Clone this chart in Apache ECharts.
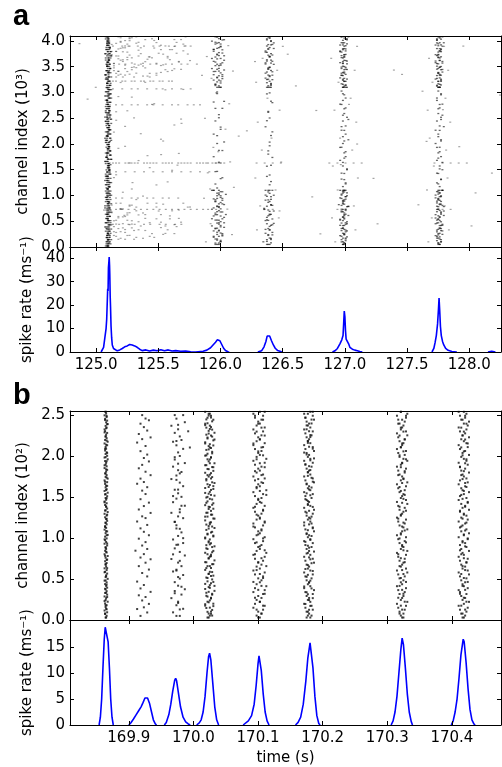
<!DOCTYPE html>
<html><head><meta charset="utf-8">
<script src="https://cdn.jsdelivr.net/npm/echarts@6/dist/echarts.min.js"></script>
<style>html,body{margin:0;padding:0;background:#fff}#c{width:502px;height:767px}</style>
</head><body><div id="c"></div>
<script>
// ---------- tick labels ----------
const xTicksA = [125.0,125.5,126.0,126.5,127.0,127.5,128.0];
const xTicksB = [169.9,170.0,170.1,170.2,170.3,170.4];
const yTicksRasterA = [0,0.5,1.0,1.5,2.0,2.5,3.0,3.5,4.0];
const yTicksRateA = [0,10,20,30,40];
const yTicksRasterB = [0,0.5,1.0,1.5,2.0,2.5];
const yTicksRateB = [0,5,10,15];

// ---------- population spike rate (time s, rate ms^-1); '-' = silent stretch (rate 0, hidden under the axis) ----------
const rateA = [[125.04,0],[125.05,0.5],[125.06,2],[125.07,6],[125.08,10],[125.085,14],[125.09,22],[125.093,27],[125.096,26],[125.099,36],[125.102,38],[125.105,40.5],[125.108,37],[125.11,33],[125.113,24],[125.116,19],[125.12,11],[125.125,6],[125.13,3],[125.14,1.5],[125.15,0.8],[125.17,0.5],[125.19,0.9],[125.21,1.5],[125.23,2.2],[125.25,2.6],[125.26,2.2],[125.27,3.2],[125.28,3.6],[125.29,3.0],[125.30,3.4],[125.31,2.6],[125.32,2.9],[125.33,2.0],[125.35,1.2],[125.37,0.6],[125.40,0.9],[125.43,0.4],[125.46,0.8],[125.49,0.5],[125.52,1.0],[125.55,0.5],[125.58,0.9],[125.61,0.4],[125.64,0.6],[125.68,0.3],[125.72,0.4],[125.76,0.1],[125.80,0],[125.86,0.3],[125.89,0.8],[125.92,1.8],[125.94,3.0],[125.96,4.2],[125.975,5.2],[125.985,5.6],[125.995,4.8],[126.01,3.2],[126.025,1.6],[126.04,0.6],[126.06,0.1],[126.07,0],[126.15,'-'],[126.30,0],[126.33,0.5],[126.35,2.2],[126.365,4.5],[126.375,6.8],[126.385,7.6],[126.395,6.8],[126.41,4.8],[126.425,3.0],[126.44,1.6],[126.46,0.6],[126.49,0.1],[126.50,0],[126.7,'-'],[126.90,0],[126.92,0.5],[126.94,1.5],[126.96,3.5],[126.975,5.2],[126.985,7],[126.99,12],[126.995,17.5],[127.0,15],[127.005,9],[127.01,5.5],[127.02,5],[127.03,3.5],[127.04,2.0],[127.06,1.2],[127.08,0.8],[127.10,0.5],[127.12,0.2],[127.14,0],[127.4,'-'],[127.70,0],[127.715,1.5],[127.725,4],[127.735,7],[127.745,12],[127.752,18],[127.757,23],[127.762,18],[127.768,11],[127.775,7],[127.785,4.5],[127.795,3],[127.81,1.5],[127.83,0.7],[127.86,0.2],[127.90,0],[128.0,'-'],[128.15,0],[128.18,0.3],[128.21,0]];

const rateB = [[169.854,0],[169.856,1.5],[169.858,5],[169.860,11],[169.862,16.5],[169.8635,18.8],[169.865,19],[169.8665,18.7],[169.868,16],[169.870,11],[169.872,5],[169.874,1.5],[169.876,0],[169.888,'-'],
[169.900,0],[169.903,0.4],[169.907,1.1],[169.911,1.9],[169.915,2.7],[169.919,3.5],[169.922,4.3],[169.925,5.2],[169.927,5.5],[169.929,5.2],[169.932,4.2],[169.935,2.6],[169.938,1.0],[169.941,0.2],[169.943,0],[169.949,'-'],
[169.955,0],[169.958,0.5],[169.962,2.0],[169.965,4.0],[169.968,6.5],[169.971,8.6],[169.9725,9.0],[169.974,8.5],[169.977,6.0],[169.980,3.5],[169.984,1.5],[169.988,0.6],[169.992,0.2],[169.995,0],[170.0,'-'],
[170.005,0],[170.009,0.4],[170.012,1.0],[170.015,2.5],[170.018,5.5],[170.021,10],[170.0235,13.2],[170.025,13.8],[170.027,12.5],[170.030,8],[170.033,3.5],[170.036,1.0],[170.039,0],[170.06,'-'],
[170.077,0],[170.080,0.3],[170.085,0.8],[170.090,1.8],[170.094,4],[170.097,7.5],[170.100,11.8],[170.1015,13.3],[170.103,13.0],[170.105,10.5],[170.108,6],[170.111,2.5],[170.114,0.8],[170.117,0],[170.14,'-'],
[170.158,0],[170.162,0.5],[170.166,1.5],[170.170,4],[170.174,8.5],[170.177,12.8],[170.1805,15.8],[170.182,15.5],[170.185,11],[170.188,5.5],[170.191,1.8],[170.194,0.3],[170.196,0],[170.25,'-'],
[170.306,0],[170.309,0.8],[170.312,2.5],[170.315,5.5],[170.318,10],[170.321,14.5],[170.323,16.7],[170.325,15.5],[170.328,11],[170.331,6],[170.334,2.5],[170.337,0.7],[170.339,0],[170.37,'-'],
[170.399,0],[170.402,0.8],[170.405,2.5],[170.408,5],[170.411,9],[170.414,13.5],[170.4175,16.5],[170.419,16],[170.422,12],[170.425,7],[170.428,3],[170.431,1.0],[170.434,0.2],[170.436,0]];

// ---------- raster spikes, hand-read per group ----------
// group: [t0 (s), dt (s per code unit), ch0, ch1 (channel, 10^n), strings]
// each character = one spike; its position along the string = channel, its base-36 value = time offset; space = none
const burstA1 = [[125.072,0.0055,0.02,4.08,[
"4536254734615274380546273514627354172645362718453627451836254736125473628154736251437625183746253614",
"5274638192736451827364519283746521837465192837465218374652918374651283746592837461528374659182736455",
"4455334466554433556644335544663344556655443344665533445566443355664433554466334455664433556644553344",
"1829374650918273645091827364519082736451092837465190283746519082736451908273645190827364519082736451",
"36475 2 84 5 3 6 47 2 5 3 6 8 4 5 2 7 3 6 4 5 1 7 3 6 4 8 2 5 3 6 4 7 5 3"]]];
const burstA2 = [
[125.917,0.014,0.05,1.1,["4 6 3 5 7 2 4 6 5 3 8 4 6 1 5 7 3 4 6 5 2","53 64 27 45 36 58 41 63 75 24 56 37 49 62","3564 2746 5381 4657 2934 6548 3726 5471"]],
[125.917,0.014,1.1,3.1,["5  3  7  4   6  2  5   8  4  6   3  5  7  2   4  6"," 4   6  3   5    7  4   2  6   5   3  8   4  "]],
[125.917,0.014,3.1,4.08,["4536 2745 6381 5472 6354 2746 3518 4","5 3 6 4 7 2 5 6 3 4 8 5 2 6 4 7 3","63 45 72 54 36 81 47 25 63 54"]]];
const burstA3 = [
[126.34,0.011,0.05,1.1,["5 3 6 4 7 2 5 8 4 3 6 5 1 7 4 6 3 5 2","46 35 72 54 63 27 45 81 36 54 62 47","3 6 4 5 7 3 5 4 6 2 8 5"]],
[126.34,0.011,1.1,3.1,["4   6  5   3   7  4   5  6   2   5  4   7   3  6","  5  3   6   4  5    7   3  4   6  5  "]],
[126.34,0.011,3.1,4.08,["5463 7254 3645 8273 5462 4537 6354","4 6 3 5 7 4 2 6 5 3 8 4 6 5","36 54 72 45 63 57 24 68 35"]]];
const burstA4 = [
[126.94,0.011,0.05,1.1,["4536 4725 6354 4637 2548 5463 7354 4626 3745","5 4 6 3 5 7 4 5 6 2 4 5 3 6 8 4 5 3 7 4 6","45 36 54 63 27 45 56 34 81 45 63 52"]],
[126.94,0.011,1.1,3.1,["5 4 6 3  5 7 4  2 6 5  3 4 8  6 5 3  4 7 5  6 2 4  5 3 6","4  6 5  3 7  4 5  6 2  5 4  3 6  8 4  5 3  6 4  7"]],
[126.94,0.011,3.1,4.08,["4563 5472 4635 5364 7245 4536 3645 5273 4658","5 4 6 5 3 4 7 5 4 6 3 5 2 4 6 5 7 3","46 54 35 63 47 55 26 44 73"]]];
const burstA5 = [
[127.707,0.011,0.05,1.1,["5463 4527 3645 5736 4258 6354 4763 5426 4537","4 6 5 3 4 7 5 6 4 3 5 2 6 4 8 5 3 4 6 5 7","54 63 45 36 72 54 46 83 35 64 52 47"]],
[127.707,0.011,1.1,3.1,["4 5 3 6  4 7 5  3 6 4  5 2 6  4 5 8  3 6 4  5 7 3  6 4 5","5  4 6  3 5  7 4  5 3  6 4  2 5  6 7  4 5  3 6  4"]],
[127.707,0.011,3.1,4.08,["5364 4625 3547 6453 4275 5634 4563 7245 3654","4 5 6 3 5 4 7 6 3 5 4 2 6 5 4 8 3 5","53 46 64 35 72 44 56 63 37"]]];
const halosA = [
[125.86,0.0075,0.1,4.05,["3 v  8   q  1  x   5  t   b    o  2   s  e   9 w   4  r  "]],
[126.28,0.0065,0.1,4.05,["a  2  t  6   p  0   w  8  k   3  u  f   1  r  9  y  "]],
[126.89,0.0065,0.1,4.05,["5  u  1  s   8  x  2   q  b   v  4  o   9  t  0  w  "]],
[127.66,0.0055,0.1,4.05,["2  w  7  q   0  u  a   s  4   y  1  r   8  v  3  p  "]]];
const scatterA = [
[125.125,0.018,3.3,4.08,["a 3 h 7 o 1 e  k 5 q 9 c  t 2 m 6 x  b 4 s 8 ","5 k 2 p 9 f  c 1 u 7 i 3 n  0 r d 6 w 4 j 8 b"," g 4 m 1 s a 6 e  z 3 h 8 l 2 q 5 o 7 c  v 9 ","2e 8k 3r 6b 1n 9u 4g 7p 0d 5w 3j 8m 2t 6f 4x","h 6 b 3 v 9 m 1 f 5 p 2 y 7 c 4 s 0 k 8 i 3"]],
[125.125,0.018,0.15,0.85,["3 b 7 i 1 p 5 d 9 m 2 u 6 f 0 r 4 k 8 w"," e 2 n 6 a 3 t 8 h 1 q 5 c 7 l 4 y 9 g","6 j 1 s 4 c 9 o 2 v 7 f 3 m 8 b 5 z 0 k","a4 h8 o2 f6 m1 s5 c9 k3 q7 e0 u4 b8 n2"]],
[125.125,0.018,0.85,3.3,["4   e   9   p   2   h   c   u   6   m   1   s   a   7   j   3   w   f   ","  b   5   k   1   r   8   g   3   n   d   6   v   2   i   9   o   4   "]]];
const rowsA = [
[125.11,0.025,1.63,1.63,["0123 56789 bcdef hijk mnopq stuv xyz"]],
[125.11,0.025,3.07,3.07,["1  4  7 9  c  f h  k  n  q"]],
[125.11,0.025,2.76,2.76,["0 2 4  7 9  c e  h  k m  p r t"]],
[125.11,0.025,3.22,3.22,["1 2 4 5 7 8 a b d e g h j k"]],
[125.11,0.025,1.46,1.46,["2 5 8 b e h k n q t w"]],
[125.11,0.025,0.73,0.73,["0 2 4 6 8 a c e g i k m o q s u"]],
[125.11,0.025,0.44,0.44,["1 3 6 8 b d g i l n"]],
[125.11,0.025,3.55,3.55,["0 3 5 8 a d f i k n p s"]],
[125.11,0.025,3.90,3.90,["1 4 6 9 b e g j l o q"]],
[125.11,0.025,0.95,0.95,["2 4 7 9 c e h j m"]],
[125.90,0.065,1.63,1.63,["012 6789 fghij stuvw"]],
[125.90,0.065,0.73,0.73,["01  78  gh  tu"]]];
const backgroundA = [
[124.80,0.0985,0.05,4.05,["  3     p    h      x   5      m    c   t      9    k     z  2    r    f     w   "]],
[124.833,0.0985,0.05,4.05,["    k      4   s     b     y      7   n    e       u   1    i     q    6       "]],
[124.866,0.0985,0.05,4.05,[" f     w     2    j      o    8      v   d     3     m    s     a       h   0  "]]];

const burstB1 = [[169.8609,0.0008,0.03,2.54,[
"4637254638452736475362845736254637482635472536384725364753628475362547382645372846357264538274635472836457326485736254",
"5 3 6 4 2 7 5 3 6 4 5 2 7 4 6 3 5 4 7 2 6 5 3 4 6 7 3 5 2 6 4 5 7 3 6 4 5 2 6 4 7 3 5 6 4 2 5 7 3 6 4"]]];
const burstB2 = [[169.9103,0.0026,0.05,2.5,[
"3 7 15 8 4 62 9 3 5 1  7 4 8 2 6 93 5 07 4 6 2 8 5 3 7 1 64 9 2 5 8 3  6 4 7 15 3 9 6 2 4 8 5 7 3  6 1 49 2 7 5 3 86 4"]]];
const burstB3 = [[169.9633,0.0026,0.05,2.5,[
"6 2 8 4 5 1 7 39 5 3 6 8 24 7 5 1 9 6 3 48 2 5 7 6 4 3 85 1 6 9 2 47 5 3 8 6 1 4 75 2 9 3 6 5 8 4 27 6 3 5 1 9 4 8",
"4 6 5  3 7  5 4  6 2  5 8  4 3  6 7  2 5  4 6  5 3  c 4  b 5  3"]]];
const burstB4 = [[170.0164,0.0018,0.03,2.54,[
"4563728145637291456372845163729456183726451837294561837264518372945618372645183729456137264518372945613726451",
"3746 5183 6274 5918 3647 2581 4637 2954 1836 4725 9163 8472 5361 8459 2736 4815 3627 4581 9364 7251 8364 "]]];
const burstB5 = [[170.0903,0.0025,0.03,2.54,[
"5364718253647182935647281536472819354627183546271835462718354627193546281735462819354627183546271835462718",
"4 6 3 7 5 2 8 4 6 1 7 5 3 9 4 6 2 8 5 3 7 4 6 1 8 5 3 7 2 6 4 9 5 3 7 4 6 2 8 5 3 7 4 6 1 5 8 3 6 4 7 2 5"]]];
const burstB6 = [[170.1695,0.0019,0.03,2.54,[
"6453827164538291645372816453928164537281645392817645382916453728164539281645372816453928164537281645392816",
"37 45 62 58 43 71 56 34 82 47 65 39 54 26 73 48 51 67 35 84 42 63 57 38 74 46 52 69 31 85 44 66 53 37 72 48"]]];
const burstB7 = [[170.313,0.002,0.03,2.54,[
"5463728194563728154637291845637281946537281459637281456372918456372819465372814596372814563729184563728194",
"6 3 5 4 7 2 6 5 3 8 4 6 5 3 7 4 2 6 5 8 3 4 7 5 6 2 4 8 3 5 6 7 4 3 5 6 2 7 4 5 8 3 6 4 5 7 3 6 4 2 5 8 4"]]];
const burstB8 = [[170.4085,0.002,0.03,2.54,[
"4637281594637218546372918463728154937264815937246183752946381725943618275493628175394628175394627185936271",
"5 4 6 3 7 5 2 6 4 8 5 3 6 4 7 5 3 2 6 4 8 5 6 3 7 4 5 2 6 8 4 3 5 7 6 4 3 5 2 6 7 4 5 3 8 6 4 5 3 7 4 6 5"]]];

function decode(groups){
  const out=[];
  groups.forEach(function(g){
    const t0=g[0],dt=g[1],c0=g[2],c1=g[3];
    g[4].forEach(function(s){
      const n=s.length;
      for(let i=0;i<n;i++){
        const c=s[i]; if(c===' ') continue;
        const v=parseInt(c,36); if(isNaN(v)) continue;
        out.push([t0+v*dt, n>1 ? c0+(c1-c0)*i/(n-1) : c0]);
      }
    });
  });
  return out;
}
const spikesABursts = [].concat(decode(burstA1),decode(burstA2),decode(burstA3),decode(burstA4),decode(burstA5));
const spikesAScatter = [].concat(decode(halosA),decode(scatterA),decode(rowsA),decode(backgroundA));
const spikesB = [].concat(decode(burstB1),decode(burstB2),decode(burstB3),decode(burstB4),decode(burstB5),decode(burstB6),decode(burstB7),decode(burstB8));

// ---------- chart ----------
const FONT='DejaVu Sans';
const grids=[
 {left:70,top:36,width:431,height:211},
 {left:70,top:247,width:431,height:105},
 {left:70,top:411,width:431,height:209},
 {left:70,top:620,width:431,height:105}];
const xr=[[124.79,128.255,xTicksA],[124.79,128.255,xTicksA],[169.809,170.476,xTicksB],[169.809,170.476,xTicksB]];
const yr=[[0,4.096,yTicksRasterA,1],[0,44.8,yTicksRateA,0],[0,2.55,yTicksRasterB,1],[0,20.2,yTicksRateB,0]];
const yNames=['channel index (10³)','spike rate (ms⁻¹)','channel index (10²)','spike rate (ms⁻¹)'];
const yGaps=[37,32,37,32];
const xAxis=[],yAxis=[];
const line={show:true,onZero:false,lineStyle:{color:'#000',width:1}};
for(let i=0;i<4;i++){
  const showX = (i===1||i===3);
  xAxis.push({type:'value',gridIndex:i,position:'bottom',min:xr[i][0],max:xr[i][1],axisLine:line,splitLine:{show:false},z:5,
    axisTick:{show:true,inside:true,length:4,customValues:xr[i][2],lineStyle:{color:'#000'}},
    axisLabel:{show:showX,customValues:xr[i][2],margin:6,fontFamily:FONT,fontSize:15,color:'#000',formatter:function(v){return v.toFixed(1);}},
    name: i===3?'time (s)':'',nameLocation:'middle',nameGap:26,nameTextStyle:{fontFamily:FONT,fontSize:15,color:'#000'}});
  xAxis.push({type:'value',gridIndex:i,position:'top',min:xr[i][0],max:xr[i][1],axisLine:line,splitLine:{show:false},z:5,
    axisTick:{show:true,inside:true,length:4,customValues:xr[i][2],lineStyle:{color:'#000'}},axisLabel:{show:false}});
  const dec=yr[i][3];
  yAxis.push({type:'value',gridIndex:i,position:'left',min:yr[i][0],max:yr[i][1],axisLine:line,splitLine:{show:false},z:5,
    axisTick:{show:true,inside:true,length:4,customValues:yr[i][2],lineStyle:{color:'#000'}},
    axisLabel:{show:true,customValues:yr[i][2],margin:5,fontFamily:FONT,fontSize:15,color:'#000',formatter:function(v){return v.toFixed(dec);}},
    name:yNames[i],nameLocation:'middle',nameRotate:90,nameGap:yGaps[i],nameTextStyle:{fontFamily:FONT,fontSize:15,color:'#000'}});
  yAxis.push({type:'value',gridIndex:i,position:'right',min:yr[i][0],max:yr[i][1],axisLine:line,splitLine:{show:false},z:5,
    axisTick:{show:true,inside:true,length:4,customValues:yr[i][2],lineStyle:{color:'#000'}},axisLabel:{show:false}});
}
const chart=echarts.init(document.getElementById('c'),null,{renderer:'canvas'});
chart.setOption({
  animation:false,
  backgroundColor:'#fff',
  grid:grids,
  xAxis:xAxis,
  yAxis:yAxis,
  graphic:[
    {type:'text',left:13,top:2,style:{text:'a',font:'bold 29px "Liberation Sans", Arial, sans-serif',fill:'#000'}},
    {type:'text',left:13,top:381,style:{text:'b',font:'bold 29px "Liberation Sans", Arial, sans-serif',fill:'#000'}}
  ],
  series:[
    {type:'scatter',xAxisIndex:0,yAxisIndex:0,data:spikesAScatter,symbol:'rect',symbolSize:[2,1.2],itemStyle:{color:'rgba(0,0,0,0.45)'},silent:true,z:1},
    {type:'scatter',xAxisIndex:0,yAxisIndex:0,data:spikesABursts,symbol:'rect',symbolSize:[2,1.3],itemStyle:{color:'rgba(0,0,0,0.75)'},silent:true,z:1},
    {type:'line',xAxisIndex:2,yAxisIndex:2,data:rateA,showSymbol:false,connectNulls:false,lineStyle:{color:'#0000ff',width:1.6},silent:true,z:1},
    {type:'scatter',xAxisIndex:4,yAxisIndex:4,data:spikesB,symbol:'rect',symbolSize:2,itemStyle:{color:'#111'},silent:true,z:1},
    {type:'line',xAxisIndex:6,yAxisIndex:6,data:rateB,showSymbol:false,connectNulls:false,lineStyle:{color:'#0000ff',width:1.6},silent:true,z:1}
  ]
});
</script></body></html>
